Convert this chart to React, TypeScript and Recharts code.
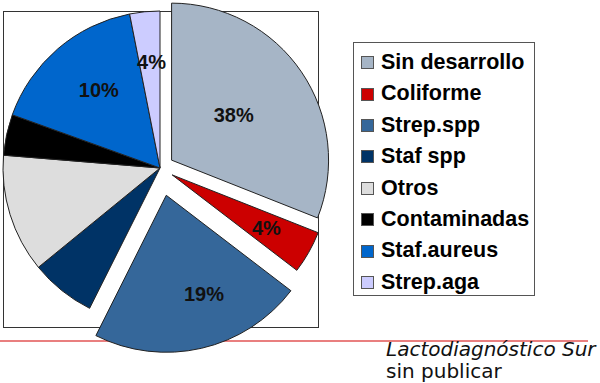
import React from 'react';
import { PieChart, Pie, Cell, Legend } from 'recharts';

const NAMES = ['Sin desarrollo', 'Coliforme', 'Strep.spp', 'Staf spp', 'Otros', 'Contaminadas', 'Staf.aureus', 'Strep.aga'];
const SHARES = [31.0, 4.4, 22.0, 6.7, 12.2, 4.2, 16.4, 3.1];
const LABELS = ['38%', '4%', '19%', '', '', '', '10%', '4%'];
const COLORS = ['#a6b5c6', '#cc0000', '#35679a', '#003366', '#dddddd', '#000000', '#0066cc', '#ccccff'];

const SOURCE_LINE_1 = 'Lactodiagnóstico Sur';
const SOURCE_LINE_2 = 'sin publicar';

// geometry / style
const CX = 160;
const CY = 168;
const R = 157;
const EXPLODE = [14, 14, 28, 0, 0, 0, 0, 0];
const LABEL_R = [0.49, 0.69, 0.67, 0, 0, 0, 0.63, 0.68];
const LABEL_NUDGE = [2, 0, 8, 0, 0, 0, -2.5, -1];

const data = NAMES.map((name, i) => ({ name, value: SHARES[i] }));
const total = SHARES.reduce((a, b) => a + b, 0);

function midAngleOf(i: number) {
  const before = SHARES.slice(0, i).reduce((a, b) => a + b, 0);
  return 90 - ((before + SHARES[i] / 2) / total) * 360;
}

const groups: number[][] = [
  NAMES.map((_, i) => i).filter((i) => EXPLODE[i] === 0),
  ...NAMES.map((_, i) => i).filter((i) => EXPLODE[i] > 0).map((i) => [i]),
];

function groupCenter(g: number[]) {
  const i = g[0];
  const d = EXPLODE[i];
  if (!d) return { x: CX, y: CY };
  const a = (midAngleOf(i) * Math.PI) / 180;
  return { x: CX + d * Math.cos(a), y: CY - d * Math.sin(a) };
}

const makeLabel = (g: number[], c: { x: number; y: number }) => (p: any) => {
  const i = p.index;
  if (!g.includes(i) || !LABELS[i]) return null;
  const a = ((midAngleOf(i) + LABEL_NUDGE[i]) * Math.PI) / 180;
  const r = R * LABEL_R[i];
  return (
    <text
      key={`lbl-${i}`}
      x={c.x + r * Math.cos(a)}
      y={c.y - r * Math.sin(a)}
      textAnchor="middle"
      dominantBaseline="central"
      fontFamily="'Liberation Sans', Arial, sans-serif"
      fontWeight={700}
      fontSize={20}
      fill="#111"
    >
      {LABELS[i]}
    </text>
  );
};

const LegendBox = () => (
  <div
    style={{
      width: 182,
      height: 254,
      boxSizing: 'border-box',
      border: '1px solid #555',
      background: '#fff',
      paddingTop: 4,
    }}
  >
    {NAMES.map((n, i) => (
      <div key={n} style={{ display: 'flex', alignItems: 'center', height: 31.4, paddingLeft: 7 }}>
        <div
          style={{
            width: 13,
            height: 13,
            boxSizing: 'border-box',
            border: '1px solid #555',
            background: COLORS[i],
            marginRight: 7,
            flexShrink: 0,
          }}
        />
        <span
          style={{
            fontFamily: "'Liberation Sans', Arial, sans-serif",
            fontWeight: 700,
            fontSize: 21.5,
            lineHeight: 1,
            color: '#000',
            whiteSpace: 'nowrap',
          }}
        >
          {n}
        </span>
      </div>
    ))}
  </div>
);

export default function App() {
  return (
    <div style={{ position: 'absolute', left: 0, top: 0, width: 600, height: 383, background: '#fff', overflow: 'hidden' }}>
      <div
        style={{
          position: 'absolute',
          left: 3,
          top: 11,
          width: 316,
          height: 317,
          boxSizing: 'border-box',
          border: '1px solid #333',
        }}
      />
      <div style={{ position: 'absolute', left: 0, top: 340, width: 588, height: 1.6, background: '#e97f7f' }} />
      <div style={{ position: 'absolute', left: 0, top: 0 }}>
        <PieChart width={600} height={383} margin={{ top: 0, right: 0, bottom: 0, left: 0 }}>
          {groups.map((g, gi) => {
            const c = groupCenter(g);
            return (
              <Pie
                key={`pie-${gi}`}
                data={data}
                dataKey="value"
                nameKey="name"
                cx={c.x}
                cy={c.y}
                outerRadius={R}
                startAngle={90}
                endAngle={-270}
                isAnimationActive={false}
                labelLine={false}
                label={makeLabel(g, c)}
                legendType="none"
              >
                {data.map((d, i) =>
                  g.includes(i) ? (
                    <Cell key={d.name} fill={COLORS[i]} stroke="#222" strokeWidth={1} />
                  ) : (
                    <Cell key={d.name} fill="none" stroke="none" />
                  )
                )}
              </Pie>
            );
          })}
          <Legend
            layout="vertical"
            align="right"
            verticalAlign="top"
            wrapperStyle={{ position: 'absolute', left: 353, top: 42, width: 182, height: 254, right: 'auto' }}
            content={() => <LegendBox />}
          />
        </PieChart>
      </div>
      <div
        style={{
          position: 'absolute',
          left: 386,
          top: 339,
          fontFamily: "'DejaVu Sans', Verdana, sans-serif",
          fontSize: 20,
          lineHeight: '21.6px',
          color: '#111',
          whiteSpace: 'nowrap',
        }}
      >
        <div style={{ fontStyle: 'italic' }}>{SOURCE_LINE_1}</div>
        <div>{SOURCE_LINE_2}</div>
      </div>
    </div>
  );
}
